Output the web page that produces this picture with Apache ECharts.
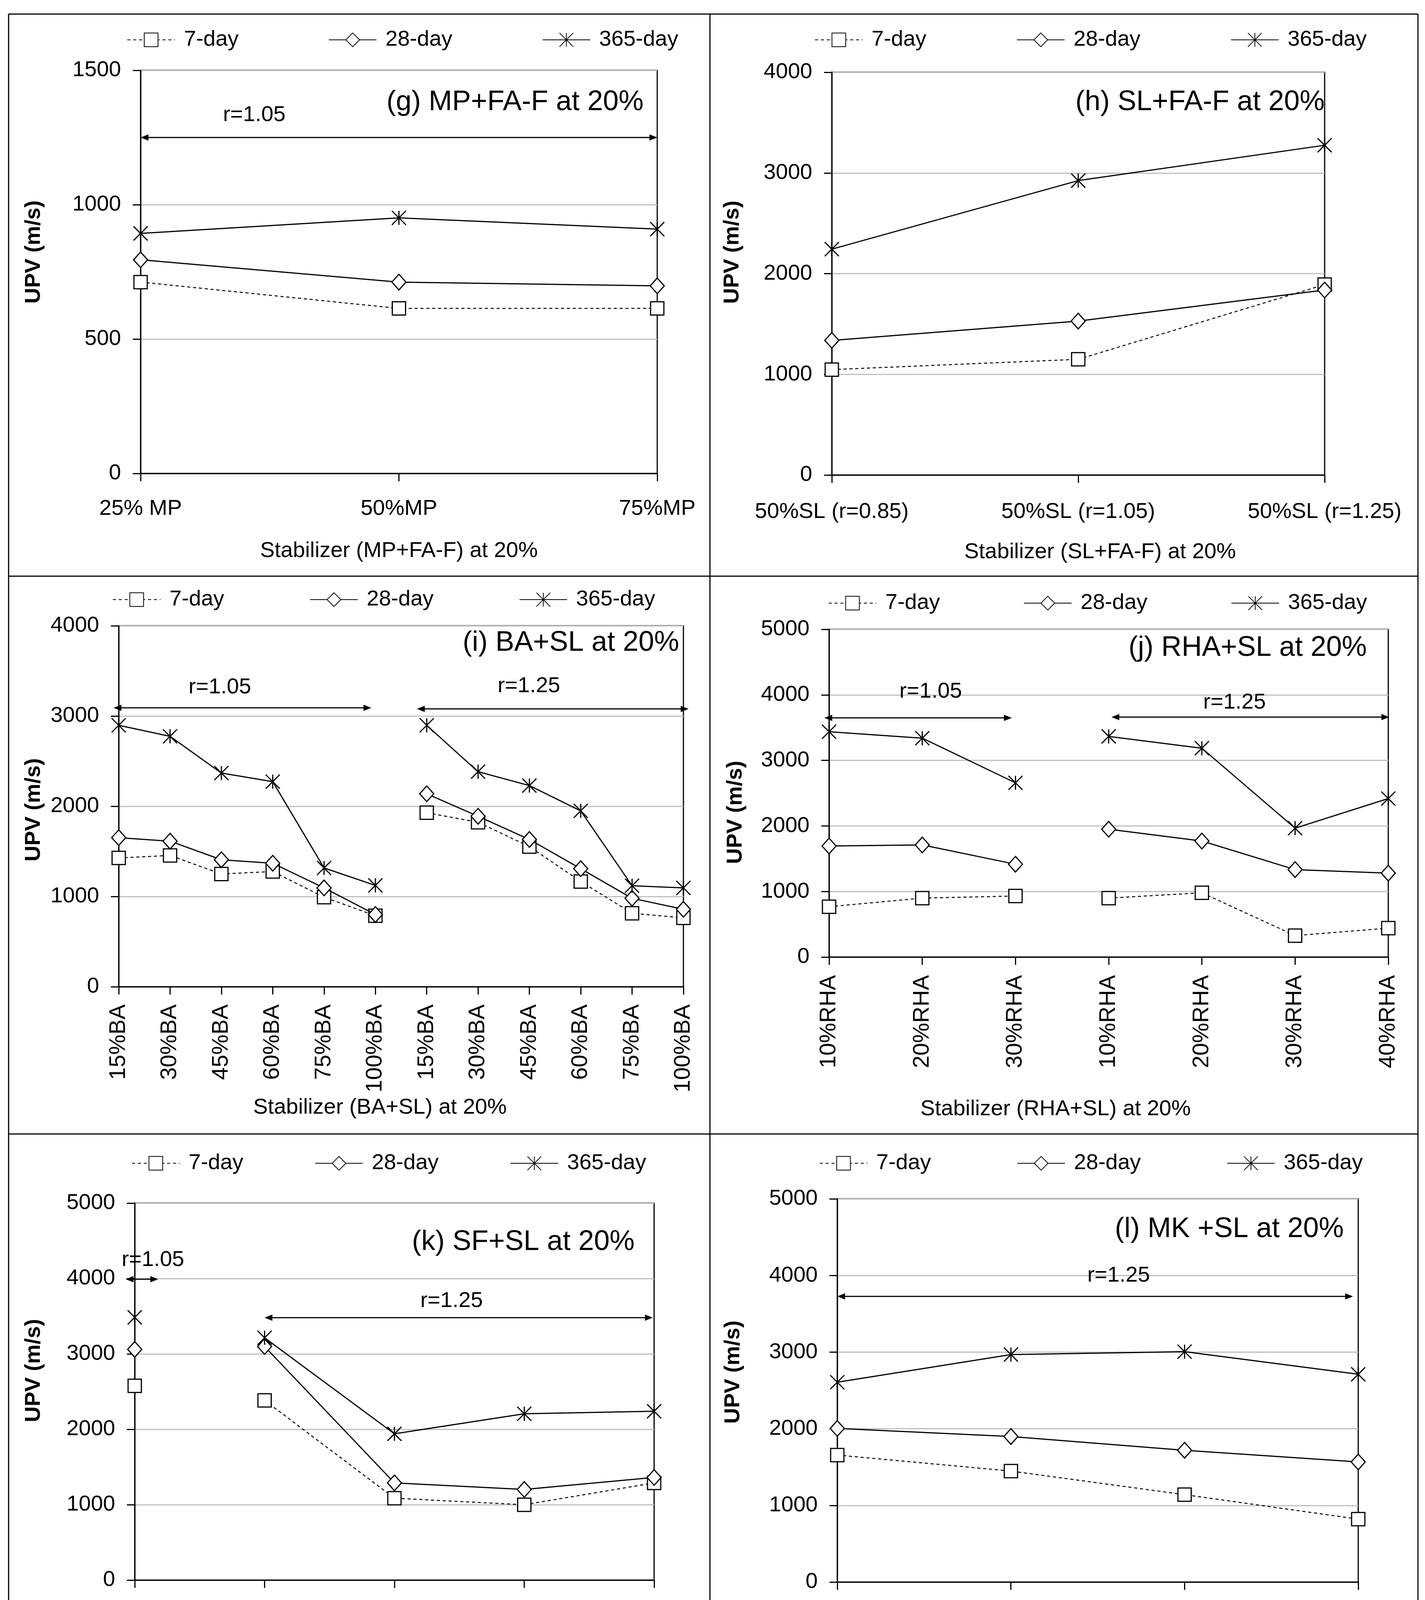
<!DOCTYPE html>
<html><head><meta charset="utf-8">
<script src="https://cdn.jsdelivr.net/npm/echarts@6/dist/echarts.min.js"></script>
<style>html,body{margin:0;padding:0;background:#fff}#c{width:3649px;height:4358px}</style>
</head><body><div id="c"></div>
<script>
const FONT = '"Liberation Sans", Arial, Helvetica, sans-serif';
const seriesNames = ['7-day', '28-day', '365-day'];

// ---- (g) MP+FA-F ----
const gCats = ['25% MP', '50%MP', '75%MP'];
const g7 = [712, 614, 614];
const g28 = [795, 712, 698];
const g365 = [893, 951, 909];
const gGroups = [[0, 2]];
const gArrows = [{ x1: 0, x2: 2, y: 1250 }];
const gNotes = [{ x: 0.44, y: 1334, text: 'r=1.05' }];

// ---- (h) SL+FA-F ----
const hCats = ['50%SL (r=0.85)', '50%SL (r=1.05)', '50%SL (r=1.25)'];
const h7 = [1047, 1149, 1891];
const h28 = [1337, 1529, 1837];
const h365 = [2243, 2924, 3275];
const hGroups = [[0, 2]];
const hArrows = [];
const hNotes = [];

// ---- (i) BA+SL ----
const iCats = ['15%BA', '30%BA', '45%BA', '60%BA', '75%BA', '100%BA', '15%BA', '30%BA', '45%BA', '60%BA', '75%BA', '100%BA'];
const i7 = [1427, 1455, 1249, 1277, 992, 787, 1929, 1822, 1553, 1166, 814, 763];
const i28 = [1652, 1613, 1407, 1368, 1095, 800, 2138, 1889, 1632, 1308, 980, 858];
const i365 = [2897, 2775, 2368, 2273, 1316, 1123, 2897, 2383, 2229, 1949, 1119, 1095];
const iGroups = [[0, 5], [6, 11]];
const iArrows = [{ x1: -0.1, x2: 4.92, y: 3091 }, { x1: 5.81, x2: 11.1, y: 3079 }];
const iNotes = [{ x: 1.97, y: 3316, text: 'r=1.05' }, { x: 7.99, y: 3332, text: 'r=1.25' }];

// ---- (j) RHA+SL ----
const jCats = ['10%RHA', '20%RHA', '30%RHA', '10%RHA', '20%RHA', '30%RHA', '40%RHA'];
const j7 = [768, 899, 931, 899, 980, 327, 441];
const j28 = [1694, 1710, 1416, 1950, 1770, 1334, 1280];
const j365 = [3437, 3339, 2658, 3366, 3186, 1966, 2418];
const jGroups = [[0, 2], [3, 6]];
const jArrows = [{ x1: -0.05, x2: 1.96, y: 3649 }, { x1: 3.03, x2: 6.01, y: 3660 }];
const jNotes = [{ x: 1.09, y: 4047, text: 'r=1.05' }, { x: 4.35, y: 3883, text: 'r=1.25' }];

// ---- (k) SF+SL ----
const kCats = ['12.5%SF', '12.5%SF', '25%SF', '37.5%SF', '50%SF'];
const k7 = [2577, 2384, 1086, 999, 1289];
const k28 = [3060, 3098, 1289, 1202, 1361];
const k365 = [3485, 3214, 1940, 2206, 2239];
const kGroups = [[0, 0], [1, 4]];
const kArrows = [{ x1: -0.07, x2: 0.18, y: 3991 }, { x1: 1.0, x2: 3.99, y: 3480 }];
const kNotes = [{ x: 0.14, y: 4247, text: 'r=1.05' }, { x: 2.44, y: 3702, text: 'r=1.25' }];

// ---- (l) MK+SL ----
const lCats = ['12.5%MK', '25%MK', '37.5%MK', '50%MK'];
const l7 = [1657, 1448, 1140, 821];
const l28 = [2004, 1899, 1719, 1567];
const l365 = [2607, 2968, 3006, 2711];
const lGroups = [[0, 3]];
const lArrows = [{ x1: 0, x2: 2.97, y: 3727 }];
const lNotes = [{ x: 1.62, y: 3998, text: 'r=1.25' }];

const panels = [
  { cats: gCats, vals: [g7, g28, g365], groups: gGroups, arrows: gArrows, notes: gNotes, yMax: 1500, yInt: 500,
    title: '(g) MP+FA-F at 20%', xName: 'Stabilizer (MP+FA-F) at 20%',
    L: { grid: [360, 180, 1323, 1032], lg: [325, 96, 230], tt: [1648, 264], yGap: 245, yShift: -51, xGap: 171, xShift: 0, margin: 63, rot: 0 } },
  { cats: hCats, vals: [h7, h28, h365], groups: hGroups, arrows: hArrows, notes: hNotes, yMax: 4000, yInt: 1000,
    title: '(h) SL+FA-F at 20%', xName: 'Stabilizer (SL+FA-F) at 20%',
    L: { grid: [2130, 185, 1262, 1031], lg: [2086, 96, 231], tt: [3392, 264], yGap: 226, yShift: -55, xGap: 170, xShift: 56, margin: 67, rot: 0 } },
  { cats: iCats, vals: [i7, i28, i365], groups: iGroups, arrows: iArrows, notes: iNotes, yMax: 4000, yInt: 1000,
    title: '(i) BA+SL at 20%', xName: 'Stabilizer (BA+SL) at 20%',
    L: { grid: [304, 1602, 1446, 924], lg: [288, 1529, 219], tt: [1739, 1648], yGap: 189, yShift: 9, xGap: 282, xShift: -54, margin: 45, rot: 90 } },
  { cats: jCats, vals: [j7, j28, j365], groups: jGroups, arrows: jArrows, notes: jNotes, yMax: 5000, yInt: 1000,
    title: '(j) RHA+SL at 20%', xName: 'Stabilizer (RHA+SL) at 20%',
    L: { grid: [2123, 1611, 1432, 839], lg: [2121, 1538, 214], tt: [3500, 1661], yGap: 211, yShift: 49, xGap: 362, xShift: -136, margin: 46, rot: 90 } },
  { cats: kCats, vals: [k7, k28, k365], groups: kGroups, arrows: kArrows, notes: kNotes, yMax: 5000, yInt: 1000,
    title: '(k) SF+SL at 20%', xName: 'Stabilizer (SF+SL) at 20 (%)',
    L: { grid: [345, 3080, 1330, 965], lg: [337, 2972, 183], tt: [1625, 3182], yGap: 230, yShift: -54, xGap: 198, xShift: 11, margin: 63, rot: 0 } },
  { cats: lCats, vals: [l7, l28, l365], groups: lGroups, arrows: lArrows, notes: lNotes, yMax: 5000, yInt: 1000,
    title: '(l) MK +SL at 20%', xName: 'Stabilizer (MK+SL) at 20 (%)',
    L: { grid: [2144, 3069, 1334, 981], lg: [2098, 2972, 220], tt: [3441, 3149], yGap: 238, yShift: -47, xGap: 196, xShift: 47, margin: 63, rot: 0 } }
];

const STAR = 'path://M0,-10 L0,10 M-10,-10 L10,10 M-10,10 L10,-10';
const styles = [
  { symbol: 'rect', symbolSize: 34, itemStyle: { color: '#fff', borderColor: '#000', borderWidth: 3 },
    lineStyle: { color: '#000', width: 2.5, type: [8, 7] } },
  { symbol: 'diamond', symbolSize: [36, 40], itemStyle: { color: '#fff', borderColor: '#000', borderWidth: 3 },
    lineStyle: { color: '#000', width: 3, type: 'solid' } },
  { symbol: STAR, symbolSize: 36, itemStyle: { color: '#000', borderColor: '#000', borderWidth: 3 },
    lineStyle: { color: '#000', width: 3, type: 'solid' } }
];

const chart = echarts.init(document.getElementById('c'), null, { renderer: 'canvas' });
const W = 3649;
const option = { backgroundColor: '#fff', animation: false, grid: [], xAxis: [], yAxis: [], series: [], legend: [], title: [] };

panels.forEach((p, k) => {
  const L = p.L;
  option.grid.push({ left: L.grid[0], top: L.grid[1], width: L.grid[2], height: L.grid[3], show: true,
    borderColor: '#000', borderWidth: 3, backgroundColor: 'transparent', containLabel: false });
  const xs = L.xShift;
  option.xAxis.push({
    gridIndex: k, type: 'value', min: 0, max: p.cats.length - 1, interval: 1,
    axisLine: { show: true, onZero: false, lineStyle: { color: '#000', width: 3 } },
    axisTick: { show: true, length: 20, lineStyle: { color: '#000', width: 3 } },
    splitLine: { show: false },
    axisLabel: { formatter: v => p.cats[Math.round(v)], fontSize: L.rot ? 58 : 56, color: '#000', fontFamily: FONT,
      margin: L.margin, rotate: L.rot },
    name: p.xName, nameLocation: 'middle', nameGap: L.xGap,
    nameTextStyle: { fontSize: 56, color: '#000', fontFamily: FONT,
      padding: xs >= 0 ? [0, 0, 0, 2 * xs] : [0, -2 * xs, 0, 0] }
  });
  const ys = L.yShift;
  option.yAxis.push({
    gridIndex: k, type: 'value', min: 0, max: p.yMax, interval: p.yInt,
    axisLine: { show: true, lineStyle: { color: '#000', width: 3 } },
    axisTick: { show: true, length: 20, lineStyle: { color: '#000', width: 3 } },
    splitLine: { show: true, lineStyle: { color: '#c0c0c0', width: 3 } },
    axisLabel: { formatter: v => String(v), fontSize: 56, color: '#000', fontFamily: FONT, margin: 50 },
    name: 'UPV (m/s)', nameLocation: 'middle', nameRotate: 90, nameGap: L.yGap,
    nameTextStyle: { fontSize: 56, fontWeight: 'bold', color: '#000', fontFamily: FONT,
      padding: ys <= 0 ? [0, 0, 0, -2 * ys] : [0, 2 * ys, 0, 0] }
  });
  p.vals.forEach((arr, s) => {
    p.groups.forEach(g => {
      const data = [];
      for (let i = g[0]; i <= g[1]; i++) data.push([i, arr[i]]);
      option.series.push(Object.assign({ type: 'line', name: seriesNames[s], xAxisIndex: k, yAxisIndex: k,
        data: data, showAllSymbol: true, silent: true, z: 3 + s }, styles[s]));
    });
  });
  option.legend.push({
    data: seriesNames, left: L.lg[0], top: L.lg[1] - 22, itemWidth: 122, itemHeight: 44, itemGap: L.lg[2],
    padding: 0, selectedMode: false,
    textStyle: { fontSize: 56, color: '#000', fontFamily: FONT, padding: [0, 0, 0, 18] }
  });
  option.title.push({
    text: p.title, right: W - L.tt[0], top: L.tt[1] - 38, padding: 0,
    textStyle: { fontSize: 72, fontWeight: 'normal', color: '#000', fontFamily: FONT }
  });
});

chart.setOption(option);

// Frame + annotations (arrows and r labels) positioned through the axes
const gfx = [];
const frame = { stroke: '#000', lineWidth: 3 };
const fx0 = 22, fx1 = 3631, fy0 = 36, fy1 = 4334, fxm = 1818, fyA = 1475, fyB = 2903;
[[fx0, fy0, fx1, fy0], [fx0, fy1, fx1, fy1], [fx0, fy0, fx0, fy1], [fx1, fy0, fx1, fy1],
 [fxm, fy0, fxm, fy1], [fx0, fyA, fx1, fyA], [fx0, fyB, fx1, fyB]].forEach(s => {
  gfx.push({ type: 'line', shape: { x1: s[0], y1: s[1], x2: s[2], y2: s[3] }, style: frame, silent: true });
});
panels.forEach((p, k) => {
  p.arrows.forEach(a => {
    const A = chart.convertToPixel({ gridIndex: k }, [a.x1, a.y]);
    const B = chart.convertToPixel({ gridIndex: k }, [a.x2, a.y]);
    const hl = 20, hw = 8;
    gfx.push({ type: 'line', shape: { x1: A[0] + 4, y1: A[1], x2: B[0] - 4, y2: B[1] },
      style: { stroke: '#000', lineWidth: 3 }, silent: true, z: 10 });
    gfx.push({ type: 'polygon', shape: { points: [[A[0], A[1]], [A[0] + hl, A[1] - hw], [A[0] + hl, A[1] + hw]] },
      style: { fill: '#000' }, silent: true, z: 10 });
    gfx.push({ type: 'polygon', shape: { points: [[B[0], B[1]], [B[0] - hl, B[1] - hw], [B[0] - hl, B[1] + hw]] },
      style: { fill: '#000' }, silent: true, z: 10 });
  });
  p.notes.forEach(n => {
    const P = chart.convertToPixel({ gridIndex: k }, [n.x, n.y]);
    gfx.push({ type: 'text', x: P[0], y: P[1], silent: true, z: 10,
      style: { text: n.text, fontSize: 56, fontFamily: FONT, fill: '#000', align: 'center', verticalAlign: 'middle' } });
  });
});
chart.setOption({ graphic: gfx });
</script>
</body></html>
